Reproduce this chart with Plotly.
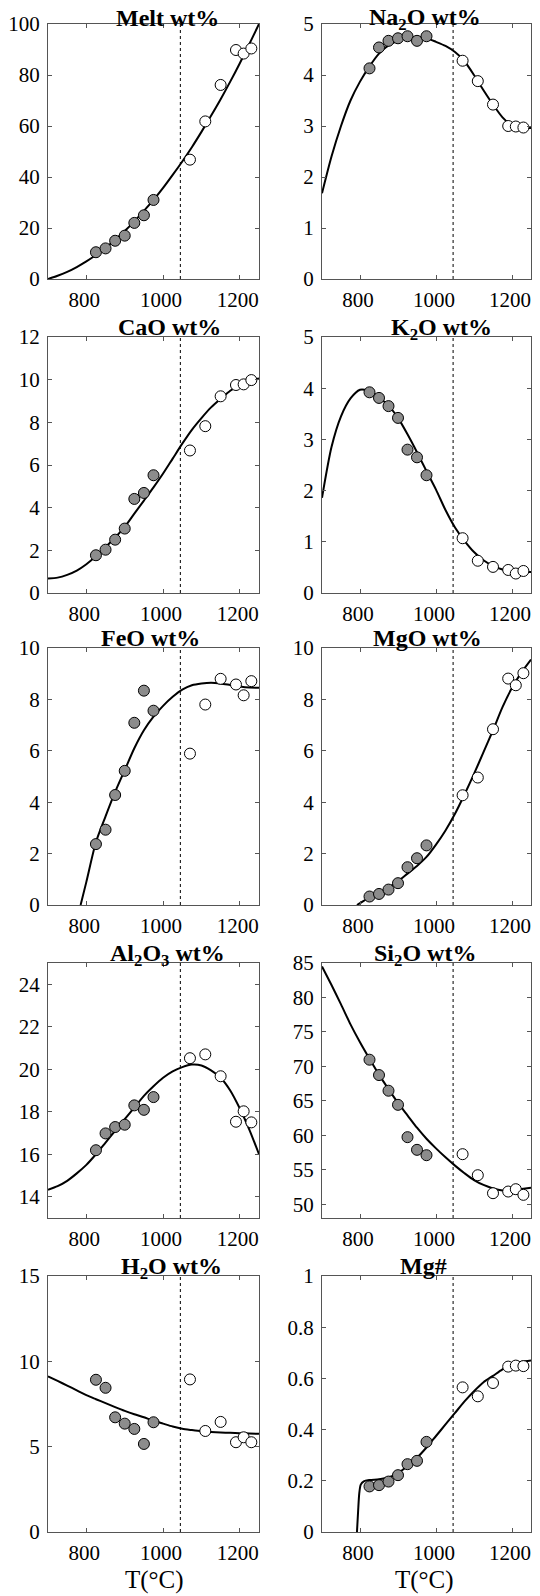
import plotly.graph_objects as go

# ---------------- data ----------------
T_GRAY = [825, 850, 875, 900, 925, 950, 975]
T_WHITE = [1070, 1110, 1150, 1190, 1210, 1230]
T_CURVE = [700, 725, 750, 775, 800, 825, 850, 875, 900, 925, 950, 975, 1000,
           1025, 1050, 1075, 1100, 1125, 1150, 1175, 1200, 1225, 1250]
T_SOLIDUS = 1045

MELT_GRAY = [10.5, 12.0, 15.0, 17.0, 22.0, 25.0, 31.0]
MELT_WHITE = [46.8, 61.8, 76.1, 89.8, 88.4, 90.4]
MELT_CURVE = [0, 1.3, 2.8, 4.7, 6.9, 9.4, 12.2, 15.4, 18.8, 22.6, 26.7, 31.0, 35.7,
              40.8, 46.1, 51.7, 57.7, 64.0, 70.5, 77.4, 84.6, 92.2, 100]

NA2O_GRAY = [4.13, 4.54, 4.67, 4.72, 4.76, 4.67, 4.76]
NA2O_WHITE = [4.28, 3.88, 3.42, 3.00, 2.99, 2.97]
NA2O_CURVE = [1.68, 2.4, 3.0, 3.5, 3.87, 4.17, 4.42, 4.58, 4.67, 4.72, 4.74, 4.72, 4.65,
              4.57, 4.45, 4.27, 4.0, 3.7, 3.42, 3.17, 3.01, 2.96, 2.96]

CAO_GRAY = [1.77, 2.03, 2.5, 3.02, 4.41, 4.69, 5.52]
CAO_WHITE = [6.68, 7.82, 9.22, 9.75, 9.78, 9.98]
CAO_CURVE = [0.68, 0.72, 0.85, 1.05, 1.35, 1.72, 2.15, 2.6, 3.1, 3.72, 4.33, 4.95, 5.6,
             6.3, 7.0, 7.65, 8.2, 8.7, 9.1, 9.48, 9.75, 9.95, 10.05]

K2O_GRAY = [3.92, 3.81, 3.65, 3.42, 2.80, 2.65, 2.30]
K2O_WHITE = [1.07, 0.63, 0.51, 0.45, 0.38, 0.43]
K2O_CURVE = [1.86, 2.85, 3.45, 3.8, 3.97, 3.95, 3.82, 3.66, 3.42, 3.1, 2.75, 2.38, 2.02,
             1.62, 1.28, 1.02, 0.8, 0.64, 0.53, 0.46, 0.42, 0.41, 0.41]

FEO_GRAY = [2.37, 2.93, 4.28, 5.22, 7.09, 8.34, 7.56]
FEO_WHITE = [5.89, 7.80, 8.80, 8.58, 8.16, 8.71]
T_FEO_CURVE = [785, 800, 825, 850, 875, 900, 925, 950, 975, 1000, 1025, 1050, 1075,
               1100, 1125, 1150, 1175, 1200, 1225, 1250]
FEO_CURVE = [0, 0.9, 2.45, 3.45, 4.4, 5.25, 6.1, 6.8, 7.33, 7.75, 8.1, 8.38, 8.55,
             8.62, 8.65, 8.62, 8.56, 8.5, 8.46, 8.45]

MGO_GRAY = [0.33, 0.43, 0.60, 0.85, 1.47, 1.82, 2.32]
MGO_WHITE = [4.27, 4.96, 6.84, 8.81, 8.55, 9.02]
T_MGO_CURVE = [792, 800, 825, 850, 875, 900, 925, 950, 975, 1000, 1025, 1050, 1075,
               1100, 1125, 1150, 1175, 1200, 1225, 1250]
MGO_CURVE = [0, 0.07, 0.3, 0.48, 0.68, 0.92, 1.22, 1.52, 1.87, 2.35, 2.9, 3.55, 4.3,
             5.1, 5.95, 6.8, 7.7, 8.45, 9.05, 9.55]

AL2O3_GRAY = [16.19, 16.98, 17.28, 17.39, 18.30, 18.09, 18.69]
AL2O3_WHITE = [20.52, 20.70, 19.67, 17.53, 18.02, 17.50]
AL2O3_CURVE = [14.33, 14.5, 14.75, 15.1, 15.5, 16.0, 16.55, 17.1, 17.65, 18.2, 18.75, 19.2, 19.6,
               19.9, 20.1, 20.22, 20.18, 19.95, 19.6, 19.0, 18.15, 17.15, 16.0]

SI2O_GRAY = [70.97, 68.74, 66.47, 64.42, 59.73, 57.89, 57.11]
SI2O_WHITE = [57.26, 54.21, 51.60, 51.84, 52.18, 51.36]
SI2O_CURVE = [84.5, 81.8, 79.0, 76.1, 73.5, 71.1, 68.8, 66.7, 64.7, 62.9, 61.1, 59.5, 58.1,
              56.8, 55.6, 54.5, 53.5, 52.8, 52.3, 52.0, 52.0, 52.2, 52.4]

H2O_GRAY = [8.92, 8.45, 6.72, 6.35, 6.04, 5.16, 6.43]
H2O_WHITE = [8.94, 5.92, 6.45, 5.26, 5.55, 5.26]
H2O_CURVE = [9.12, 8.85, 8.58, 8.3, 8.02, 7.78, 7.55, 7.32, 7.1, 6.9, 6.72, 6.52, 6.35,
             6.18, 6.05, 5.97, 5.9, 5.86, 5.83, 5.81, 5.79, 5.77, 5.75]

MGN_GRAY = [0.178, 0.183, 0.197, 0.222, 0.265, 0.278, 0.352]
MGN_WHITE = [0.565, 0.530, 0.582, 0.646, 0.650, 0.648]
T_MGN_CURVE = [792, 795, 798, 802, 810, 825, 850, 875, 900, 925, 950, 975, 1000,
               1025, 1050, 1075, 1100, 1125, 1150, 1175, 1200, 1225, 1250]
MGN_CURVE = [0, 0.08, 0.15, 0.185, 0.198, 0.203, 0.206, 0.213, 0.23, 0.258, 0.29, 0.33, 0.375,
             0.42, 0.465, 0.51, 0.55, 0.585, 0.61, 0.635, 0.655, 0.665, 0.67]

X_TICKS = [800, 1000, 1200]
X_RANGE = [700, 1250]

# (title, gray, white, curve_T, curve_y, yrange, ytickvals, yticktext, title_x_px)
PANELS = [
    ("Melt wt%", MELT_GRAY, MELT_WHITE, T_CURVE, MELT_CURVE, [0, 100], [0, 20, 40, 60, 80, 100], None, 167),
    ("Na<sub>2</sub>O wt%", NA2O_GRAY, NA2O_WHITE, T_CURVE, NA2O_CURVE, [0, 5], [0, 1, 2, 3, 4, 5], None, 425),
    ("CaO wt%", CAO_GRAY, CAO_WHITE, T_CURVE, CAO_CURVE, [0, 12], [0, 2, 4, 6, 8, 10, 12], None, 169),
    ("K<sub>2</sub>O wt%", K2O_GRAY, K2O_WHITE, T_CURVE, K2O_CURVE, [0, 5], [0, 1, 2, 3, 4, 5], None, 441),
    ("FeO wt%", FEO_GRAY, FEO_WHITE, T_FEO_CURVE, FEO_CURVE, [0, 10], [0, 2, 4, 6, 8, 10], None, 150),
    ("MgO wt%", MGO_GRAY, MGO_WHITE, T_MGO_CURVE, MGO_CURVE, [0, 10], [0, 2, 4, 6, 8, 10], None, 427),
    ("Al<sub>2</sub>O<sub>3</sub> wt%", AL2O3_GRAY, AL2O3_WHITE, T_CURVE, AL2O3_CURVE, [13, 25], [14, 16, 18, 20, 22, 24], None, 167),
    ("Si<sub>2</sub>O wt%", SI2O_GRAY, SI2O_WHITE, T_CURVE, SI2O_CURVE, [48, 85], [50, 55, 60, 65, 70, 75, 80, 85], None, 425),
    ("H<sub>2</sub>O wt%", H2O_GRAY, H2O_WHITE, T_CURVE, H2O_CURVE, [0, 15], [0, 5, 10, 15], None, 171),
    ("Mg#", MGN_GRAY, MGN_WHITE, T_MGN_CURVE, MGN_CURVE, [0, 1], [0, 0.2, 0.4, 0.6, 0.8, 1], ["0", "0.2", "0.4", "0.6", "0.8", "1"], 423),
]

# ---------------- layout geometry (page pixels) ----------------
PAGE_W, PAGE_H = 540, 1596
OFF = 8                      # default body margin of the html page
W, H = PAGE_W - OFF, PAGE_H - OFF
COLS = [(48, 259), (322, 531)]
ROWS = [(24, 279), (337, 593), (648, 905), (963, 1218), (1276, 1532)]


def px_x(p):
    return (p - OFF) / W


def px_y(p):
    return 1 - (p - OFF) / H


FONT = "Liberation Serif, Times New Roman, serif"
GRAY_FILL = "#8c8c8c"
AXCOL = "#555555"

fig = go.Figure()
annotations = []
shapes = []

for i, (title, g, w, tc, yc, yr, ytv, ytt, tx) in enumerate(PANELS):
    r, c = divmod(i, 2)
    n = i + 1
    xa = "x" if n == 1 else f"x{n}"
    ya = "y" if n == 1 else f"y{n}"
    x0, x1 = COLS[c]
    top, bot = ROWS[r]
    xdom = [px_x(x0), px_x(x1)]
    ydom = [px_y(bot), px_y(top)]

    fig.add_trace(go.Scatter(x=tc, y=yc, mode="lines", xaxis=xa, yaxis=ya,
                             line=dict(color="black", width=2, shape="spline", smoothing=0.7),
                             showlegend=False, hoverinfo="skip"))
    fig.add_trace(go.Scatter(x=T_GRAY, y=g, mode="markers", xaxis=xa, yaxis=ya,
                             marker=dict(size=11, color=GRAY_FILL, line=dict(color="black", width=1)),
                             showlegend=False, cliponaxis=False))
    fig.add_trace(go.Scatter(x=T_WHITE, y=w, mode="markers", xaxis=xa, yaxis=ya,
                             marker=dict(size=11, color="white", line=dict(color="black", width=1)),
                             showlegend=False, cliponaxis=False))

    axis_common = dict(showline=True, linecolor=AXCOL, linewidth=1, mirror="ticks",
                       ticks="inside", ticklen=4, tickcolor=AXCOL, showgrid=False, zeroline=False,
                       automargin=False,
                       tickfont=dict(family=FONT, size=21, color="black"))
    fig.layout[f"xaxis{'' if n == 1 else n}"] = dict(
        domain=xdom, anchor=ya, range=X_RANGE, tickvals=X_TICKS,
        ticklabelshift=-2, ticklabelstandoff=2, **axis_common)
    ydict = dict(domain=ydom, anchor=xa, range=yr, tickvals=ytv, ticklabelstandoff=3, **axis_common)
    if ytt is not None:
        ydict["ticktext"] = ytt
    fig.layout[f"yaxis{'' if n == 1 else n}"] = ydict

    shapes.append(dict(type="line", xref=xa, yref=f"{ya} domain", x0=T_SOLIDUS, x1=T_SOLIDUS,
                       y0=0, y1=1, line=dict(color="black", width=1, dash="dot")))

    has_sub = "<sub>" in title
    gap = 3 if r > 0 else (0 if has_sub else -1)
    base = 12 if has_sub else 8
    annotations.append(dict(text=f"<b>{title}</b>", xref="paper", yref="paper",
                            x=px_x(tx), y=ydom[1], xanchor="center", yanchor="bottom",
                            yshift=-(base - gap), showarrow=False,
                            font=dict(family=FONT, size=24, color="black")))

for xc in [154, 424]:
    annotations.append(dict(text="T(°C)", xref="paper", yref="paper", x=px_x(xc), y=px_y(1580),
                            xanchor="center", yanchor="middle", showarrow=False,
                            font=dict(family=FONT, size=25, color="black")))

fig.update_layout(width=W, height=H, margin=dict(l=0, r=0, t=0, b=0, autoexpand=False),
                  paper_bgcolor="white", plot_bgcolor="white",
                  annotations=annotations, shapes=shapes, showlegend=False)

fig.write_html("out.html")
